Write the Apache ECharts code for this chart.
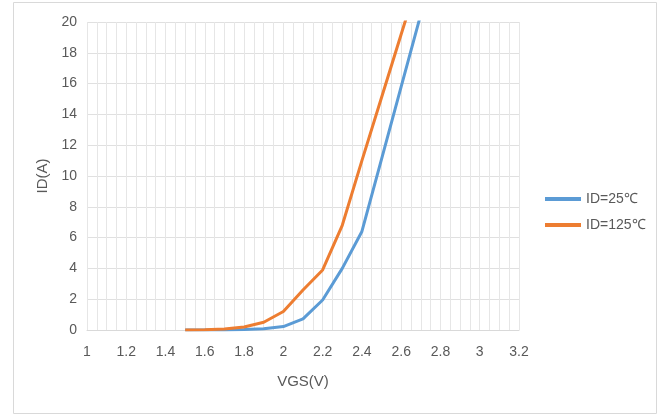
<!DOCTYPE html>
<html><head><meta charset="utf-8">
<script src="https://cdn.jsdelivr.net/npm/echarts@6/dist/echarts.min.js"></script>
<style>html,body{margin:0;padding:0;background:#fff}#c{width:664px;height:417px}</style>
</head><body><div id="c"></div>
<script>
var vgs = [1.5,1.6,1.7,1.8,1.9,2.0,2.1,2.2,2.3,2.4,2.5,2.6,2.7];
var id25 = [0,0,0,0.03,0.08,0.22,0.72,1.95,4.0,6.4,11.1,15.8,20.5];
var id125 = [0,0.02,0.06,0.2,0.5,1.2,2.6,3.9,6.8,11.0,15.1,19.2,23.3];
var seriesNames = ['ID=25\u2103','ID=125\u2103'];
var xTitle = 'VGS(V)', yTitle = 'ID(A)';

var font = "'Liberation Sans Narrow','Liberation Sans',Arial,sans-serif";
var txt = '#595959';
function pairs(xs, ys){ return xs.map(function(x,i){return [x, ys[i]];}); }

var chart = echarts.init(document.getElementById('c'), null, {renderer:'canvas'});
chart.setOption({
  animation:false,
  textStyle:{fontFamily:font},
  graphic:[{type:'rect', shape:{x:13.5,y:2.5,width:643,height:411}, style:{fill:'none', stroke:'#d9d9d9', lineWidth:1}, silent:true}],
  grid:{left:87, right:145, top:22, bottom:87},
  legend:{orient:'vertical', left:540, top:187, itemWidth:36, itemHeight:4, itemGap:12,
    icon:'rect', textStyle:{color:txt, fontSize:14, fontFamily:font},
    data:seriesNames},
  xAxis:{type:'value', min:1, max:3.2, interval:0.2,
    name:xTitle, nameLocation:'middle', nameGap:44, nameTextStyle:{color:txt, fontSize:15, fontFamily:font},
    axisLine:{show:true, onZero:false, lineStyle:{color:'#d9d9d9'}},
    axisTick:{show:false},
    axisLabel:{color:txt, fontSize:14, fontFamily:font, margin:15},
    splitLine:{show:true, lineStyle:{color:'#e6e6e6', width:1}},
    minorTick:{show:false, splitNumber:4},
    minorSplitLine:{show:true, lineStyle:{color:'#e6e6e6', width:1}}
  },
  yAxis:{type:'value', min:0, max:20, interval:2,
    name:yTitle, nameLocation:'middle', nameGap:35, nameRotate:90, nameTextStyle:{color:txt, fontSize:15, fontFamily:font},
    axisLine:{show:false}, axisTick:{show:false},
    axisLabel:{color:txt, fontSize:14, fontFamily:font, margin:10},
    splitLine:{show:true, lineStyle:{color:'#e0e0e0', width:1}}
  },
  series:[
    {name:seriesNames[0], type:'line', data:pairs(vgs,id25), showSymbol:false, symbol:'none',
     lineStyle:{color:'#5B9BD5', width:3}, itemStyle:{color:'#5B9BD5'}, clip:true},
    {name:seriesNames[1], type:'line', data:pairs(vgs,id125), showSymbol:false, symbol:'none',
     lineStyle:{color:'#ED7D31', width:3}, itemStyle:{color:'#ED7D31'}, clip:true}
  ]
});
</script></body></html>
